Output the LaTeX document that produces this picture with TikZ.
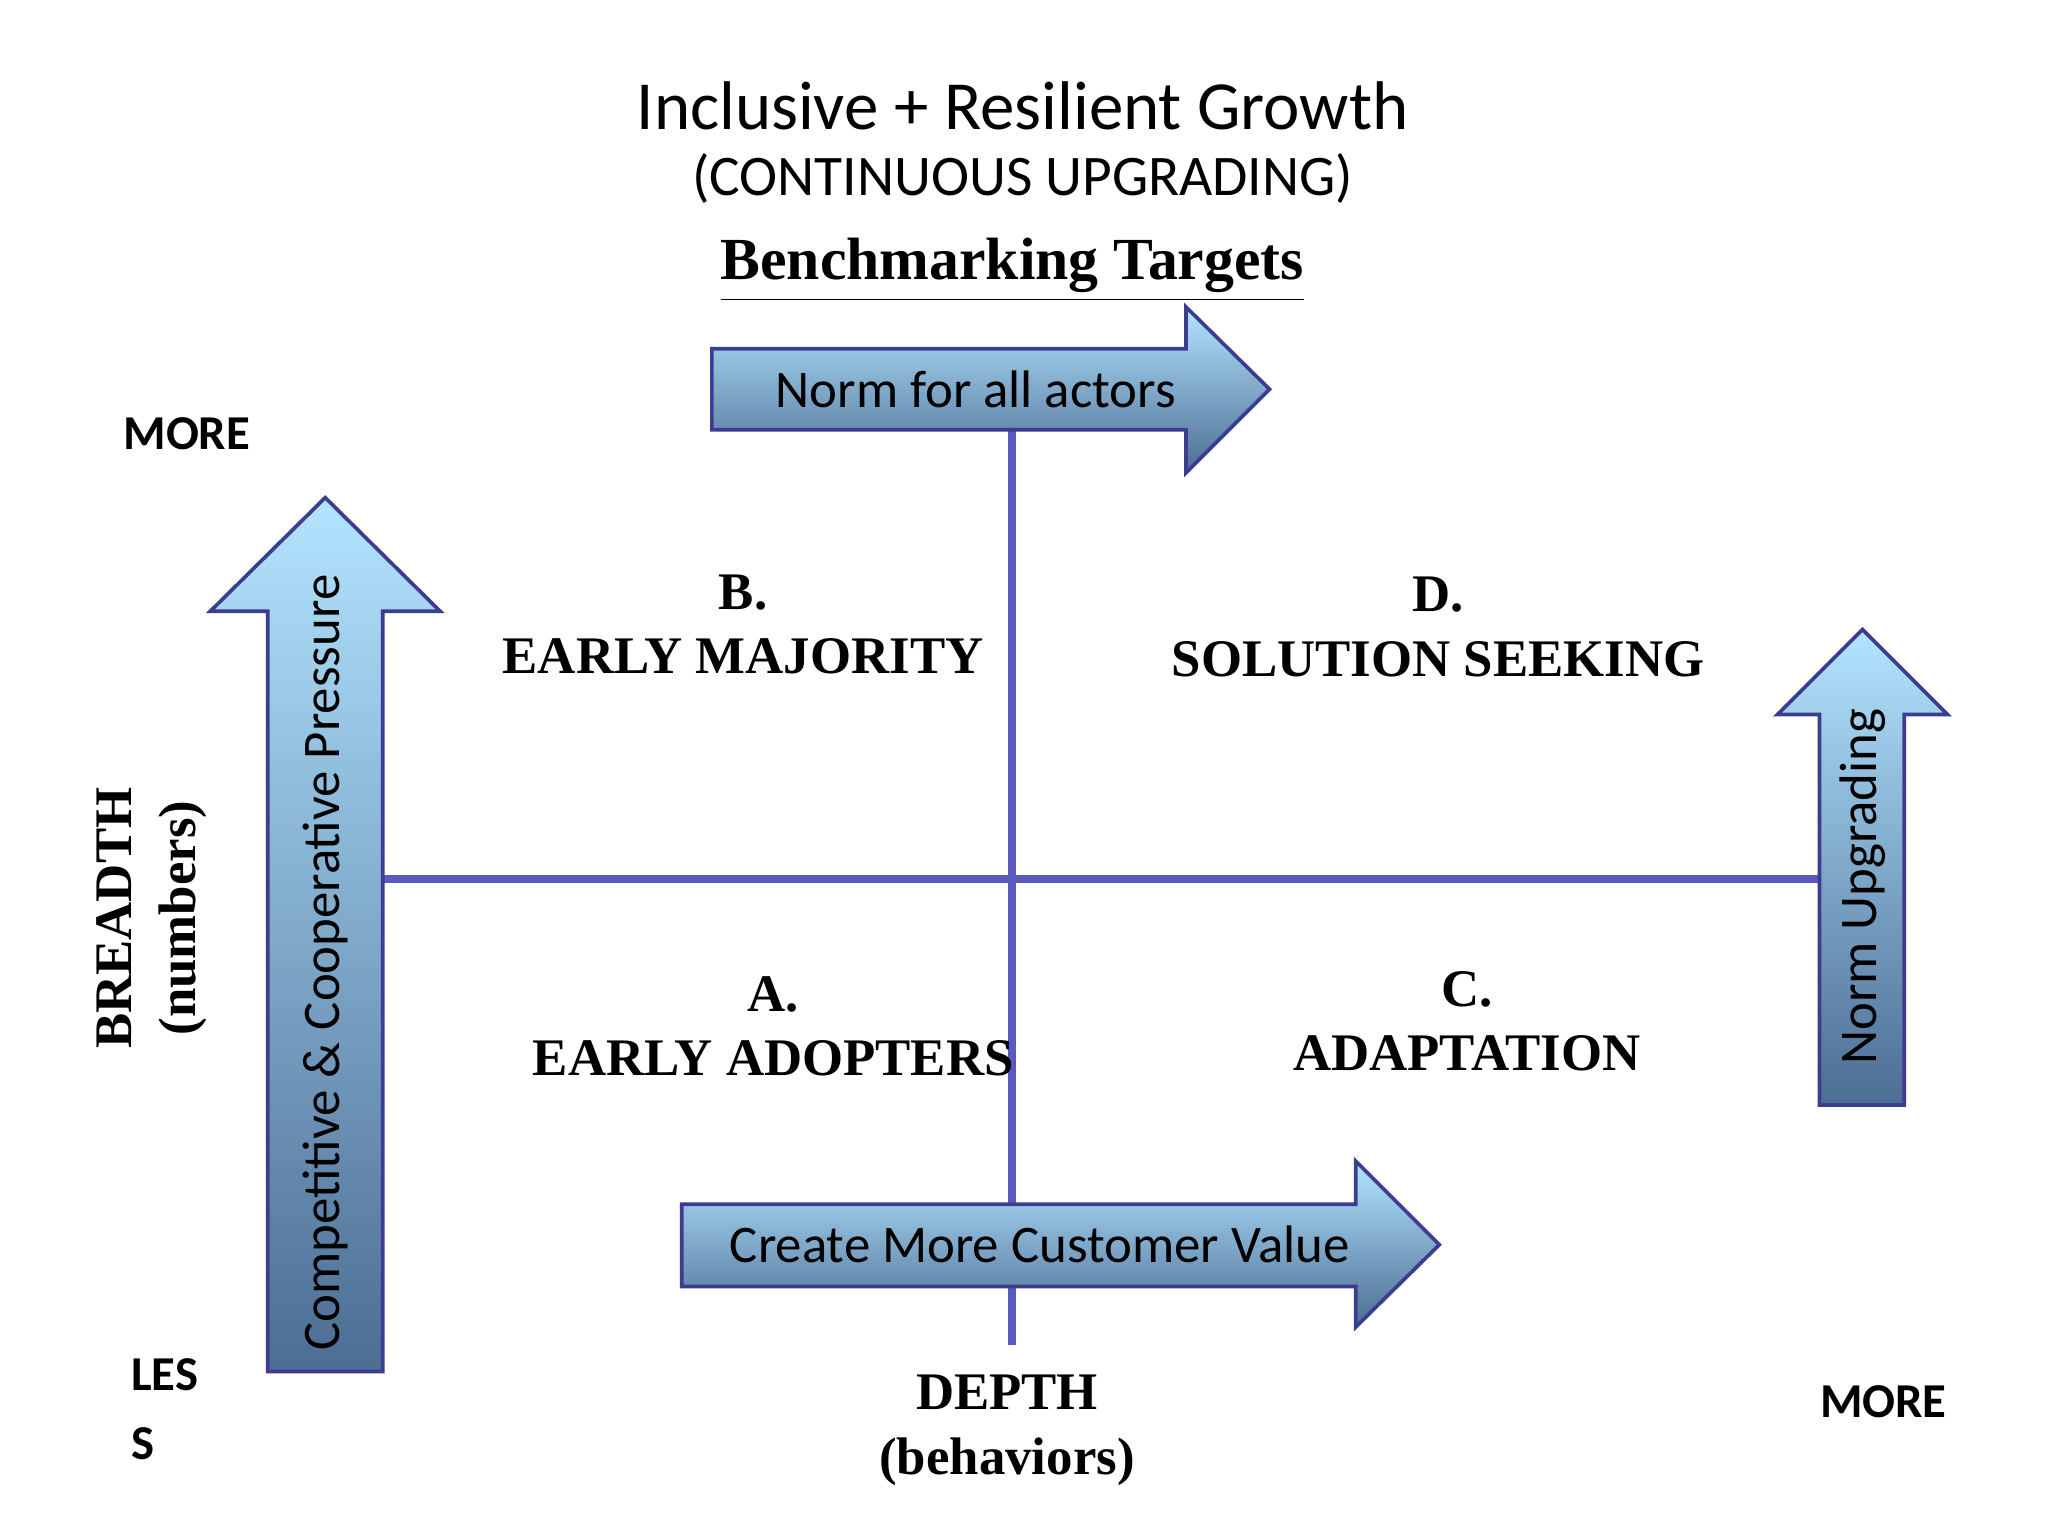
\documentclass[tikz,border=0pt]{standalone}
\usepackage{fontspec}
\setmainfont{Carlito}
\newfontfamily\serifb{Liberation Serif}
\begin{document}
\begin{tikzpicture}[x=0.01cm,y=-0.01cm,
  arr/.style={draw=blue!40!gray!80!black,line width=0.8pt,top color=blue!35!cyan!30,bottom color=blue!55!cyan!40!black!70!white},
  axis/.style={draw=blue!45!gray!90,line width=1.7pt},
  quad/.style={font=\serifb\bfseries\fontsize{11.5}{14}\selectfont,align=center},
  lab/.style={font=\bfseries\fontsize{10.6}{13}\selectfont},
  atxt/.style={font=\fontsize{11.5}{14}\selectfont}]
\useasboundingbox[fill=white] (0,0) rectangle (1568,1176);
% axes
\draw[axis] (775,330) -- (775,1030);
\draw[axis] (293,673) -- (1393,673);
% arrows
\path[arr] (545,267) -- (908,267) -- (908,235) -- (972,298) -- (908,362) -- (908,329) -- (545,329) -- cycle;
\path[arr] (522,922) -- (1038,922) -- (1038,889) -- (1102,953) -- (1038,1016) -- (1038,985) -- (522,985) -- cycle;
\path[arr] (205,1050) -- (205,468) -- (161,468) -- (249,381) -- (337,468) -- (293,468) -- (293,1050) -- cycle;
\path[arr] (1393,846) -- (1393,547) -- (1361,547) -- (1426,482) -- (1491,547) -- (1458,547) -- (1458,846) -- cycle;
\node[atxt] (n1) at (747,298) {Norm for all actors};
\node[atxt] (n2) at (796,953) {Create More Customer Value};
\node[atxt,rotate=90] (n3) at (249,737) {Competitive \& Cooperative Pressure};
\node[atxt,rotate=90] (n4) at (1426,679) {Norm Upgrading};
% titles
\node[font=\fontsize{15}{18}\selectfont] (t1) at (783,81) {Inclusive + Resilient Growth};
\node[font=\fontsize{12.5}{15}\selectfont] (t2) at (783,137) {(CONTINUOUS UPGRADING)};
\node[font=\serifb\bfseries\fontsize{13}{16}\selectfont] (t3) at (775,207) {\underline{Benchmarking Targets}};
% quadrants
\node[quad] (qb) at (569,478) {B.\\EARLY MAJORITY};
\node[quad] (qd) at (1101,480) {D.\\SOLUTION SEEKING};
\node[quad] (qa) at (592,786) {A.\\EARLY ADOPTERS};
\node[quad] (qc) at (1123,782) {C.\\ADAPTATION};
% axis labels
\node[lab] (m1) at (143,332) {MORE};
\node[lab,align=left,anchor=north west] (ls) at (88,1028) {LES\\[2pt]S};
\node[lab] (m2) at (1442,1073) {MORE};
\node[quad] (dp) at (771,1095) {DEPTH\\(behaviors)};
\node[quad,rotate=90] (br) at (116,703) {BREADTH\\(numbers)};
\end{tikzpicture}
\end{document}
